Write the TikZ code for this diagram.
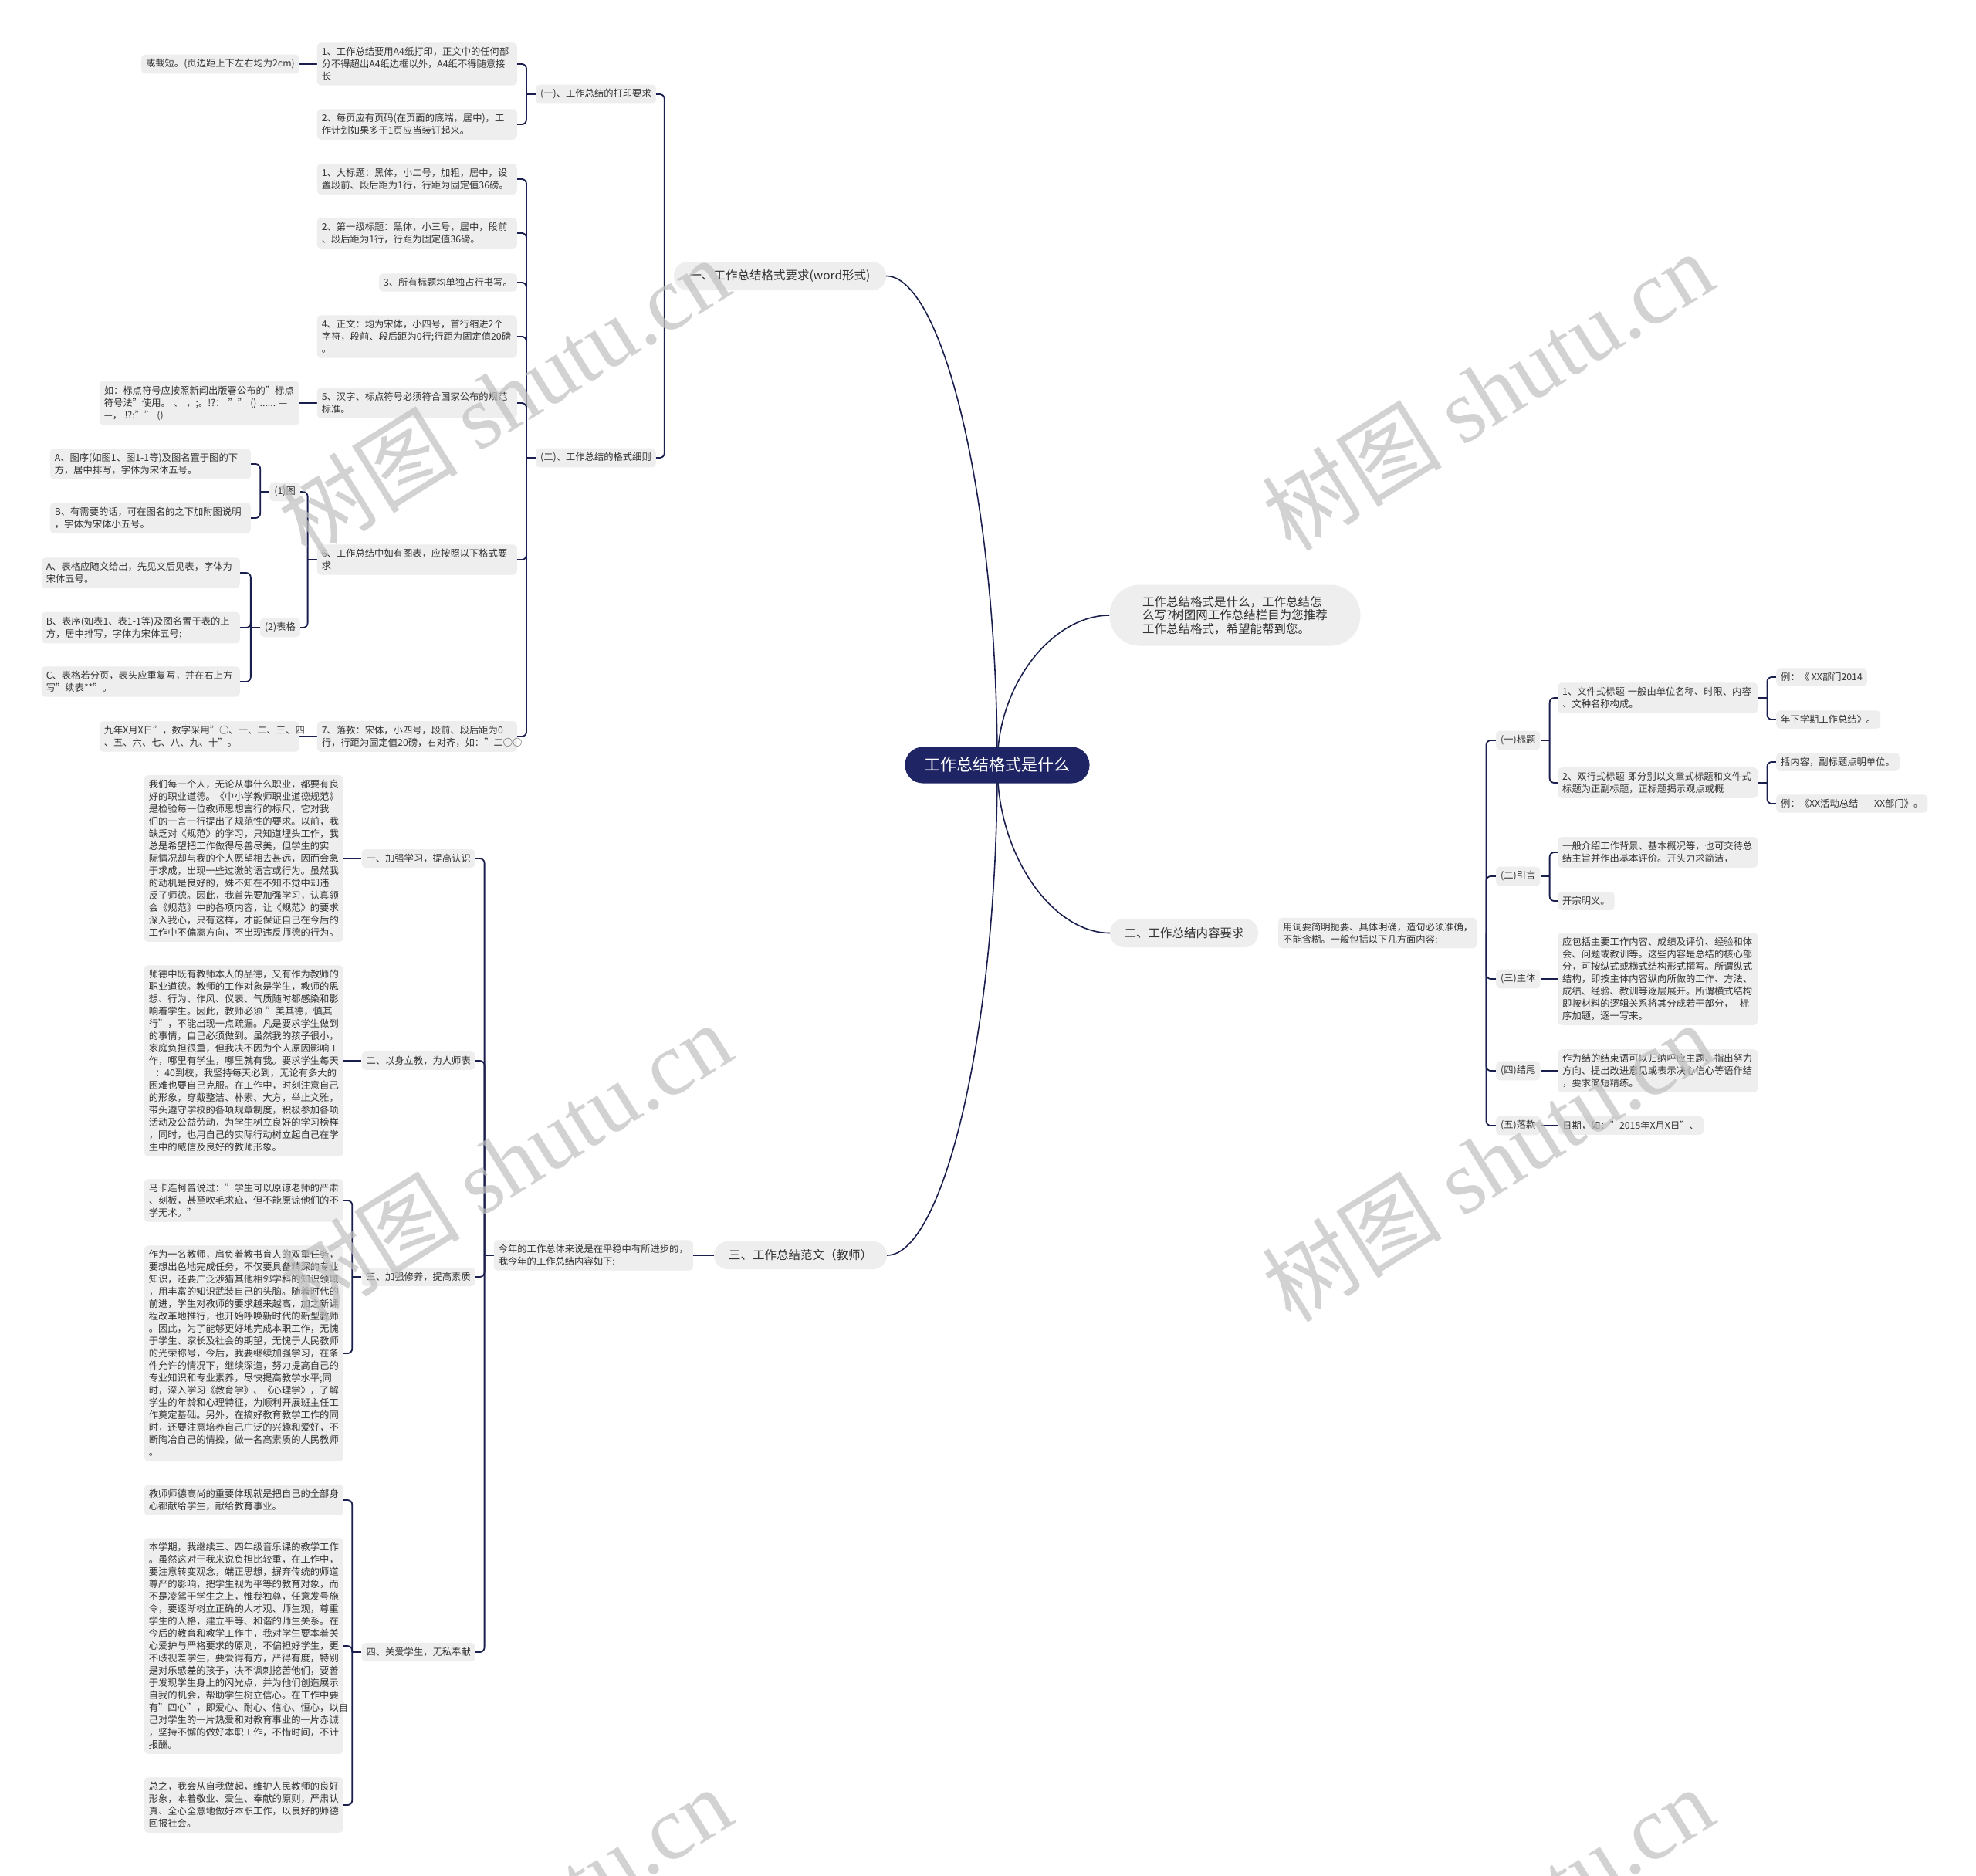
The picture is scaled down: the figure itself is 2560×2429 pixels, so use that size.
\documentclass[tikz,border=0pt]{standalone}
\usepackage{fontspec}
\setmainfont{Noto Sans CJK SC}
\newfontfamily\wmlatin{Liberation Serif}
\usetikzlibrary{backgrounds,calc}
\definecolor{linec}{RGB}{26,31,77}
\definecolor{rootc}{RGB}{31,37,100}
\definecolor{boxc}{RGB}{238,238,238}
\definecolor{textc}{RGB}{51,51,51}
\newcommand{\fsA}{\fontsize{12.3}{16}\selectfont}
\newcommand{\lbranch}[2]{\draw[bconn] ($(#1.west)+(-12,0)$) |- (#2.east); \draw[conn] (#1.west) -- ++(-12,0);}
\newcommand{\rbranch}[2]{\draw[bconn] ($(#1.east)+(12,0)$) |- (#2.west); \draw[conn] (#1.east) -- ++(12,0);}
\begin{document}
\begin{tikzpicture}[x=1pt,y=-1pt,
  conn/.style={draw=linec, line width=1.8pt},
  bconn/.style={draw=linec, line width=1.8pt, rounded corners=6pt},
  curve/.style={draw=linec, line width=1.6pt},
  box/.style={fill=boxc, rounded corners=5pt, inner xsep=6pt, inner ysep=6pt, text=textc, font=\fsA, align=left},
  pill/.style={fill=boxc, text=textc, font=\fontsize{15.5}{18}\selectfont, inner sep=0pt, align=center},
  wm/.style={text=black!25, opacity=0.7, rotate=32, font=\fontsize{117}{117}\selectfont}
]
\useasboundingbox (0,0) rectangle (2560,2429);

% ---------- root and first level ----------
\node[fill=rootc, text=white, font=\fontsize{21}{24}\selectfont, minimum width=239pt, minimum height=47pt, rounded corners=23pt, inner sep=0pt] (root) at (1292,991) {工作总结格式是什么};
\node[pill, minimum width=275pt, minimum height=37pt, rounded corners=18pt] (n1) at (1010.5,357.5) {一、工作总结格式要求(word形式)};
\node[pill, minimum width=325pt, minimum height=79pt, rounded corners=39pt, align=left, font=\fontsize{15.5}{17.5}\selectfont] (intro) at (1600,797) {工作总结格式是什么，工作总结怎\\么写?树图网工作总结栏目为您推荐\\工作总结格式，希望能帮到您。};
\node[pill, minimum width=192pt, minimum height=37pt, rounded corners=18pt] (n2) at (1534,1208.5) {二、工作总结内容要求};
\node[pill, minimum width=224pt, minimum height=36pt, rounded corners=18pt] (n3) at (1037,1626) {三、工作总结范文（教师）};

% ---------- branch one ----------
\node[box, anchor=east] (a1) at (850,122) {(一)、工作总结的打印要求};
\node[box, anchor=east] (a2) at (850,593) {(二)、工作总结的格式细则};
\node[box, anchor=east, text width=247pt] (a1a) at (670,83) {1、工作总结要用A4纸打印，正文中的任何部\\分不得超出A4纸边框以外，A4纸不得随意接\\长};
\node[box, anchor=east, text width=247pt] (a1b) at (670,161) {2、每页应有页码(在页面的底端，居中)，工\\作计划如果多于1页应当装订起来。};
\node[box, anchor=east] (a1a1) at (388,83) {或截短。(页边距上下左右均为2cm)};

\node[box, anchor=east, text width=247pt] (b1) at (670,232) {1、大标题：黑体，小二号，加粗，居中，设\\置段前、段后距为1行，行距为固定值36磅。};
\node[box, anchor=east, text width=247pt] (b2) at (670,302) {2、第一级标题：黑体，小三号，居中，段前\\、段后距为1行，行距为固定值36磅。};
\node[box, anchor=east] (b3) at (670,366) {3、所有标题均单独占行书写。};
\node[box, anchor=east, text width=247pt] (b4) at (670,436) {4、正文：均为宋体，小四号，首行缩进2个\\字符，段前、段后距为0行;行距为固定值20磅\\。};
\node[box, anchor=east, text width=247pt] (b5) at (670,522) {5、汉字、标点符号必须符合国家公布的规范\\标准。};
\node[box, anchor=east, text width=247pt] (b5a) at (388,522) {如：标点符号应按照新闻出版署公布的"标点\\符号法"使用。~、~，;。!?：~""~()~......~—\\—，.!?:""~()};
\node[box, anchor=east, text width=247pt] (b6) at (670,725) {6、工作总结中如有图表，应按照以下格式要\\求};
\node[box, anchor=east] (b6a) at (389,637) {(1)图};
\node[box, anchor=east] (b6b) at (389,813) {(2)表格};
\node[box, anchor=east, text width=248pt] (b6a1) at (325,601) {A、图序(如图1、图1-1等)及图名置于图的下\\方，居中排写，字体为宋体五号。};
\node[box, anchor=east, text width=248pt] (b6a2) at (325,671) {B、有需要的话，可在图名的之下加附图说明\\，字体为宋体小五号。};
\node[box, anchor=east, text width=245pt] (b6b1) at (311,742) {A、表格应随文给出，先见文后见表，字体为\\宋体五号。};
\node[box, anchor=east, text width=245pt] (b6b2) at (311,813) {B、表序(如表1、表1-1等)及图名置于表的上\\方，居中排写，字体为宋体五号;};
\node[box, anchor=east, text width=245pt] (b6b3) at (311,883) {C、表格若分页，表头应重复写，并在右上方\\写"续表**"。};
\node[box, anchor=east, text width=247pt] (b7) at (670,954) {7、落款：宋体，小四号，段前、段后距为0\\行，行距为固定值20磅，右对齐，如："二○○};
\node[box, anchor=east, text width=247pt] (b7a) at (388,954) {九年X月X日"，数字采用"○、一、二、三、四\\、五、六、七、八、九、十"。};

% ---------- branch two ----------
\node[box, anchor=west, text width=245pt] (r0) at (1656,1208.5) {用词要简明扼要、具体明确，造句必须准确，\\不能含糊。一般包括以下几方面内容:};
\node[box, anchor=west] (r1) at (1938,959) {(一)标题};
\node[box, anchor=west] (r2) at (1938,1135) {(二)引言};
\node[box, anchor=west] (r3) at (1938,1268) {(三)主体};
\node[box, anchor=west] (r4) at (1938,1387) {(四)结尾};
\node[box, anchor=west] (r5) at (1938,1458) {(五)落款};
\node[box, anchor=west, text width=247pt] (r1a) at (2018,904) {1、文件式标题~一般由单位名称、时限、内容\\、文种名称构成。};
\node[box, anchor=west] (r1a1) at (2301,877) {例：《~XX部门2014};
\node[box, anchor=west] (r1a2) at (2301,932) {年下学期工作总结》。};
\node[box, anchor=west, text width=247pt] (r1b) at (2018,1014) {2、双行式标题~即分别以文章式标题和文件式\\标题为正副标题，正标题揭示观点或概};
\node[box, anchor=west] (r1b1) at (2301,987) {括内容，副标题点明单位。};
\node[box, anchor=west] (r1b2) at (2301,1041) {例：《XX活动总结——XX部门》。};
\node[box, anchor=west, text width=247pt] (r2a) at (2018,1104) {一般介绍工作背景、基本概况等，也可交待总\\结主旨并作出基本评价。开头力求简洁，};
\node[box, anchor=west] (r2b) at (2018,1167) {开宗明义。};
\node[box, anchor=west, text width=247pt] (r3a) at (2018,1268) {应包括主要工作内容、成绩及评价、经验和体\\会、问题或教训等。这些内容是总结的核心部\\分，可按纵式或横式结构形式撰写。所谓纵式\\结构，即按主体内容纵向所做的工作、方法、\\成绩、经验、教训等逐层展开。所谓横式结构\\即按材料的逻辑关系将其分成若干部分，~~标\\序加题，逐一写来。};
\node[box, anchor=west, text width=247pt] (r4a) at (2018,1387) {作为结的结束语可以归纳呼应主题、指出努力\\方向、提出改进意见或表示决心信心等语作结\\，要求简短精练。};
\node[box, anchor=west] (r5a) at (2018,1458) {日期，如："2015年X月X日"、};

% ---------- branch three ----------
\node[box, anchor=east, text width=246pt] (t0) at (898,1626) {今年的工作总体来说是在平稳中有所进步的，\\我今年的工作总结内容如下:};
\node[box, anchor=east] (d1) at (616,1112) {一、加强学习，提高认识};
\node[box, anchor=east] (d2) at (616,1374) {二、以身立教，为人师表};
\node[box, anchor=east] (d3) at (616,1654) {三、加强修养，提高素质};
\node[box, anchor=east] (d4) at (616,2140) {四、关爱学生，无私奉献};
\node[box, anchor=east, text width=246pt] (e1) at (445,1112) {我们每一个人，无论从事什么职业，都要有良\\好的职业道德。《中小学教师职业道德规范》\\是检验每一位教师思想言行的标尺，它对我\\们的一言一行提出了规范性的要求。以前，我\\缺乏对《规范》的学习，只知道埋头工作，我\\总是希望把工作做得尽善尽美，但学生的实\\际情况却与我的个人愿望相去甚远，因而会急\\于求成，出现一些过激的语言或行为。虽然我\\的动机是良好的，殊不知在不知不觉中却违\\反了师德。因此，我首先要加强学习，认真领\\会《规范》中的各项内容，让《规范》的要求\\深入我心，只有这样，才能保证自己在今后的\\工作中不偏离方向，不出现违反师德的行为。};
\node[box, anchor=east, text width=246pt] (e2) at (445,1374) {师德中既有教师本人的品德，又有作为教师的\\职业道德。教师的工作对象是学生，教师的思\\想、行为、作风、仪表、气质随时都感染和影\\响着学生。因此，教师必须~"美其德，慎其\\行"，不能出现一点疏漏。凡是要求学生做到\\的事情，自己必须做到。虽然我的孩子很小，\\家庭负担很重，但我决不因为个人原因影响工\\作，哪里有学生，哪里就有我。要求学生每天\\~~：40到校，我坚持每天必到，无论有多大的\\困难也要自己克服。在工作中，时刻注意自己\\的形象，穿戴整洁、朴素、大方，举止文雅，\\带头遵守学校的各项规章制度，积极参加各项\\活动及公益劳动，为学生树立良好的学习榜样\\，同时，也用自己的实际行动树立起自己在学\\生中的威信及良好的教师形象。};
\node[box, anchor=east, text width=246pt] (e3a) at (445,1555) {马卡连柯曾说过："学生可以原谅老师的严肃\\、刻板，甚至吹毛求疵，但不能原谅他们的不\\学无术。"};
\node[box, anchor=east, text width=246pt] (e3b) at (445,1753) {作为一名教师，肩负着教书育人的双重任务，\\要想出色地完成任务，不仅要具备精深的专业\\知识，还要广泛涉猎其他相邻学科的知识领域\\，用丰富的知识武装自己的头脑。随着时代的\\前进，学生对教师的要求越来越高，加之新课\\程改革地推行，也开始呼唤新时代的新型教师\\。因此，为了能够更好地完成本职工作，无愧\\于学生、家长及社会的期望，无愧于人民教师\\的光荣称号，今后，我要继续加强学习，在条\\件允许的情况下，继续深造，努力提高自己的\\专业知识和专业素养，尽快提高教学水平;同\\时，深入学习《教育学》、《心理学》，了解\\学生的年龄和心理特征，为顺利开展班主任工\\作奠定基础。另外，在搞好教育教学工作的同\\时，还要注意培养自己广泛的兴趣和爱好，不\\断陶冶自己的情操，做一名高素质的人民教师\\。};
\node[box, anchor=east, text width=246pt] (e4a) at (445,1943) {教师师德高尚的重要体现就是把自己的全部身\\心都献给学生，献给教育事业。};
\node[box, anchor=east, text width=246pt] (e4b) at (445,2132) {本学期，我继续三、四年级音乐课的教学工作\\。虽然这对于我来说负担比较重，在工作中，\\要注意转变观念，端正思想，摒弃传统的师道\\尊严的影响，把学生视为平等的教育对象，而\\不是凌驾于学生之上，惟我独尊，任意发号施\\令，要逐渐树立正确的人才观、师生观，尊重\\学生的人格，建立平等、和谐的师生关系。在\\今后的教育和教学工作中，我对学生要本着关\\心爱护与严格要求的原则，不偏袒好学生，更\\不歧视差学生，要爱得有方，严得有度，特别\\是对乐感差的孩子，决不讽刺挖苦他们，要善\\于发现学生身上的闪光点，并为他们创造展示\\自我的机会，帮助学生树立信心。在工作中要\\有"四心"，即爱心、耐心、信心、恒心，以自\\己对学生的一片热爱和对教育事业的一片赤诚\\，坚持不懈的做好本职工作，不惜时间，不计\\报酬。};
\node[box, anchor=east, text width=246pt] (e4c) at (445,2338) {总之，我会从自我做起，维护人民教师的良好\\形象，本着敬业、爱生、奉献的原则，严肃认\\真、全心全意地做好本职工作，以良好的师德\\回报社会。};

% ---------- connectors ----------
\begin{scope}[on background layer]
\fill[white] (0,0) rectangle (2560,2429);
\draw[curve] (root.center) .. controls +(0,-349) and +(72,0) .. (n1.east);
\draw[curve] (root.center) .. controls +(0,-107) and +(-72,0) .. (intro.west);
\draw[curve] (root.center) .. controls +(0,119) and +(-73,0) .. (n2.west);
\draw[curve] (root.center) .. controls +(0,349) and +(72,0) .. (n3.east);

\lbranch{n1}{a1} \lbranch{n1}{a2}
\lbranch{a1}{a1a} \lbranch{a1}{a1b}
\draw[conn] (a1a.west) -- (a1a1.east);
\lbranch{a2}{b1} \lbranch{a2}{b2} \lbranch{a2}{b3} \lbranch{a2}{b4}
\lbranch{a2}{b5} \lbranch{a2}{b6} \lbranch{a2}{b7}
\draw[conn] (b5.west) -- (b5a.east);
\draw[conn] (b7.west) -- (b7a.east);
\lbranch{b6}{b6a} \lbranch{b6}{b6b}
\lbranch{b6a}{b6a1} \lbranch{b6a}{b6a2}
\lbranch{b6b}{b6b1} \lbranch{b6b}{b6b2} \lbranch{b6b}{b6b3}

\draw[conn] (n2.east) -- (r0.west);
\rbranch{r0}{r1} \rbranch{r0}{r2} \rbranch{r0}{r3} \rbranch{r0}{r4} \rbranch{r0}{r5}
\rbranch{r1}{r1a} \rbranch{r1}{r1b}
\rbranch{r1a}{r1a1} \rbranch{r1a}{r1a2}
\rbranch{r1b}{r1b1} \rbranch{r1b}{r1b2}
\rbranch{r2}{r2a} \rbranch{r2}{r2b}
\draw[conn] (r3.east) -- (r3a.west);
\draw[conn] (r4.east) -- (r4a.west);
\draw[conn] (r5.east) -- (r5a.west);

\draw[conn] (n3.west) -- (t0.east);
\lbranch{t0}{d1} \lbranch{t0}{d2} \lbranch{t0}{d3} \lbranch{t0}{d4}
\draw[conn] (d1.west) -- (e1.east);
\draw[conn] (d2.west) -- (e2.east);
\lbranch{d3}{e3a} \lbranch{d3}{e3b}
\lbranch{d4}{e4a} \lbranch{d4}{e4b} \lbranch{d4}{e4c}
\end{scope}

% ---------- watermarks ----------
\node[wm] (w1) at (652,514) {树图 {\wmlatin shutu.cn}};
\node[wm] (w2) at (1927,506) {树图 {\wmlatin shutu.cn}};
\node[wm] (w3) at (655,1505) {树图 {\wmlatin shutu.cn}};
\node[wm] (w4) at (1927,1505) {树图 {\wmlatin shutu.cn}};
\node[wm] (w5) at (655,2495) {树图 {\wmlatin shutu.cn}};
\node[wm] (w6) at (1927,2495) {树图 {\wmlatin shutu.cn}};
\end{tikzpicture}
\end{document}
